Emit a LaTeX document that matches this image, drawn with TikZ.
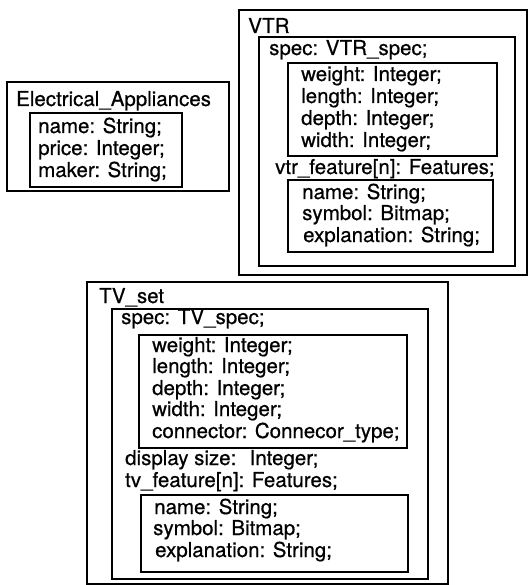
\documentclass[tikz,border=0pt]{standalone}
\usepackage{fontspec}
\setmainfont{TeX Gyre Heros}[FakeBold=0.6]
\usetikzlibrary{positioning}

\begin{document}
\begin{tikzpicture}[x=1pt, y=-1pt,
      frame/.style={line width=2pt},
      field/.style={anchor=base west, inner sep=0pt, font=\fontsize{20.5}{22}\selectfont}
    ]
    \useasboundingbox (0,0) rectangle (529,585);

    % Electrical_Appliances
    \draw[frame] (7,82) rectangle (229,191);
    \node[field] (ea) at (16,106) {Electrical\_Appliances};
    \draw[frame] (30,113) rectangle (182,187);
    \node[field] (eaname) at (38,133) {name: String;};
    \node[field] (eaprice) at (38,155) {price: Integer;};
    \node[field] (eamaker) at (38,177) {maker: String;};

    % VTR
    \draw[frame] (239,10) rectangle (527,275);
    \node[field] (vtr) at (248,33) {VTR};
    \draw[frame] (259,37) rectangle (515,266);
    \node[field] (vtrspec) at (269,55) {spec: VTR\_spec;};
    \draw[frame] (288,63) rectangle (497,156);
    \node[field] (vtrweight) at (301,81) {weight: Integer;};
    \node[field] (vtrlength) at (301,103) {length: Integer;};
    \node[field] (vtrdepth) at (301,125) {depth: Integer;};
    \node[field] (vtrwidth) at (301,147) {width: Integer;};
    \node[field] (vtrfeat) at (275,174) {vtr\_feature[n]: Features;};
    \draw[frame] (288,180) rectangle (493,252);
    \node[field] (vtrname) at (302,199) {name: String;};
    \node[field] (vtrsymbol) at (302,220) {symbol: Bitmap;};
    \node[field] (vtrexpl) at (303,242) {explanation: String;};

    % TV_set
    \draw[frame] (87,282) rectangle (448,584);
    \node[field] (tv) at (99,303) {TV\_set};
    \draw[frame] (112,309) rectangle (428,579);
    \node[field] (tvspec) at (121,324) {spec: TV\_spec;};
    \draw[frame] (139,335) rectangle (407,448);
    \node[field] (tvweight) at (152,352) {weight: Integer;};
    \node[field] (tvlength) at (152,373) {length: Integer;};
    \node[field] (tvdepth) at (152,395) {depth: Integer;};
    \node[field] (tvwidth) at (152,416) {width: Integer;};
    \node[field] (tvconn) at (152,438) {connector: Connecor\_type;};
    \node[field] (tvdisplay) at (125,465) {display size: \ Integer;};
    \node[field] (tvfeat) at (125,487) {tv\_feature[n]: Features;};
    \draw[frame] (141,495) rectangle (408,572);
    \node[field] (tvname) at (154,514) {name: String;};
    \node[field] (tvsymbol) at (153,535) {symbol: Bitmap;};
    \node[field] (tvexpl) at (155,557) {explanation: String;};
  \end{tikzpicture}
\end{document}
